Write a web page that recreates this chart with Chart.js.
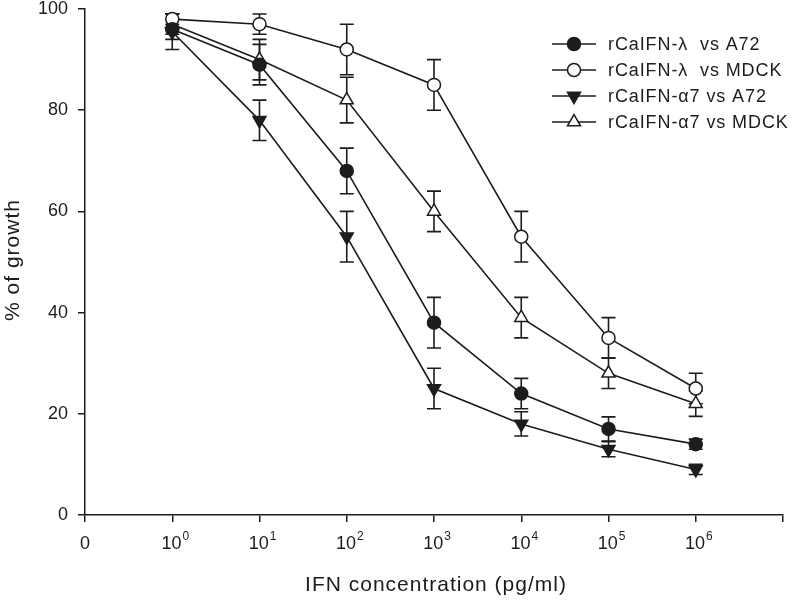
<!DOCTYPE html>
<html>
<head>
<meta charset="utf-8">
<script src="https://cdn.jsdelivr.net/npm/chart.js@4/dist/chart.umd.min.js"></script>
<style>
  html, body { margin: 0; padding: 0; background: #fff; }
  #wrap { width: 792px; height: 600px; position: relative; }
</style>
</head>
<body>
<div id="wrap"><canvas id="growthChart"></canvas></div>
<script>
// x positions 1..7 stand for 10^0 .. 10^6 pg/ml, 0 is the "0" tick
const doseIndex = [1, 2, 3, 4, 5, 6, 7];
const tickBase = ["0", "10", "10", "10", "10", "10", "10", "10", ""];
const tickExp = ["", "0", "1", "2", "3", "4", "5", "6", ""];

const seriesNames = [
  "rCaIFN-λ  vs A72",
  "rCaIFN-λ  vs MDCK",
  "rCaIFN-α7 vs A72",
  "rCaIFN-α7 vs MDCK",
];

const lambdaA72 = [96, 89, 68, 38, 24, 17, 14];
const lambdaMDCK = [98, 97, 92, 85, 55, 35, 25];
const alphaA72 = [95.5, 78, 55, 25, 18, 13, 9];
const alphaMDCK = [97, 90, 82, 60, 39, 28, 22];

const lambdaA72Err = [2, 4, 4.5, 5, 3, 2.4, 1];
const lambdaMDCKErr = [1, 2, 5, 5, 5, 4, 3];
const alphaA72Err = [3.5, 4, 5, 4, 2.4, 1.5, 1];
const alphaMDCKErr = [2, 4, 4.5, 4, 4, 3, 2.5];

const ink = "#1c1c1c";
const font = "'Liberation Sans', Arial, sans-serif";

const makeSet = (label, values, errors, style, rotation, fill) => ({
  label,
  data: values.map((v, i) => ({ x: doseIndex[i], y: v })),
  errors,
  borderColor: ink,
  borderWidth: 1.6,
  pointStyle: style,
  pointRotation: rotation,
  pointRadius: style === "triangle" ? 7.5 : 6.5,
  pointBackgroundColor: fill,
  pointBorderColor: ink,
  pointBorderWidth: 1.5,
  tension: 0,
});

const errorBars = {
  id: "errorBars",
  beforeDatasetsDraw(chart) {
    const { ctx, scales } = chart;
    ctx.save();
    ctx.strokeStyle = ink;
    ctx.lineWidth = 1.6;
    chart.data.datasets.forEach((ds) => {
      ds.data.forEach((pt, i) => {
        const e = ds.errors[i];
        const x = scales.x.getPixelForValue(pt.x);
        const top = scales.y.getPixelForValue(pt.y + e);
        const bot = scales.y.getPixelForValue(pt.y - e);
        ctx.beginPath();
        ctx.moveTo(x, top);
        ctx.lineTo(x, bot);
        ctx.moveTo(x - 7, top);
        ctx.lineTo(x + 7, top);
        ctx.moveTo(x - 7, bot);
        ctx.lineTo(x + 7, bot);
        ctx.stroke();
      });
    });
    ctx.restore();
  },
};

// legend, axis titles and powers-of-ten tick labels
const textLayer = {
  id: "textLayer",
  afterDraw(chart) {
    const { ctx, scales, chartArea } = chart;
    ctx.save();
    ctx.fillStyle = ink;

    // x tick labels with raised exponent
    ctx.textBaseline = "alphabetic";
    tickBase.forEach((base, i) => {
      if (!base) return;
      const x = scales.x.getPixelForValue(i);
      ctx.font = `18px ${font}`;
      const wb = ctx.measureText(base).width;
      ctx.font = `12px ${font}`;
      const we = tickExp[i] ? ctx.measureText(tickExp[i]).width + 1 : 0;
      const left = x - (wb + we) / 2 + (tickExp[i] ? 3 : 0);
      ctx.font = `18px ${font}`;
      ctx.fillText(base, left, chartArea.bottom + 34);
      if (tickExp[i]) {
        ctx.font = `12px ${font}`;
        ctx.fillText(tickExp[i], left + wb + 1, chartArea.bottom + 25);
      }
    });

    // axis titles
    ctx.letterSpacing = "1px";
    ctx.font = `21px ${font}`;
    ctx.textAlign = "center";
    ctx.textBaseline = "middle";
    ctx.fillText("IFN concentration (pg/ml)", 436, 585);
    ctx.save();
    ctx.translate(13, 260);
    ctx.rotate(-Math.PI / 2);
    ctx.fillText("% of growth", 0, 0);
    ctx.restore();

    // legend
    ctx.textAlign = "left";
    ctx.letterSpacing = "0.9px";
    chart.data.datasets.forEach((ds, i) => {
      const y = 44 + i * 26;
      ctx.strokeStyle = ink;
      ctx.lineWidth = 1.6;
      ctx.beginPath();
      ctx.moveTo(552, y);
      ctx.lineTo(596, y);
      ctx.stroke();
      ctx.fillStyle = ds.pointBackgroundColor;
      ctx.lineWidth = 1.5;
      Chart.helpers.drawPoint(ctx, {
        pointStyle: ds.pointStyle,
        rotation: ds.pointRotation,
        radius: ds.pointRadius,
        borderWidth: 1.5,
      }, 574, y);
      ctx.fillStyle = ink;
      ctx.font = `18px ${font}`;
      ctx.fillText(ds.label, 608, y + 1);
    });
    ctx.restore();
  },
};

new Chart(document.getElementById("growthChart"), {
  type: "line",
  data: {
    datasets: [
      makeSet(seriesNames[0], lambdaA72, lambdaA72Err, "circle", 0, ink),
      makeSet(seriesNames[1], lambdaMDCK, lambdaMDCKErr, "circle", 0, "#fff"),
      makeSet(seriesNames[2], alphaA72, alphaA72Err, "triangle", 180, ink),
      makeSet(seriesNames[3], alphaMDCK, alphaMDCKErr, "triangle", 0, "#fff"),
    ],
  },
  options: {
    responsive: true,
    maintainAspectRatio: false,
    animation: false,
    layout: { padding: { top: 9, right: 5, left: 0, bottom: 0 } },
    plugins: {
      legend: { display: false },
      tooltip: { enabled: false },
    },
    scales: {
      x: {
        type: "linear",
        min: 0,
        max: 8,
        afterFit: (scale) => {
          scale.height = 85;
          scale.paddingLeft = 0;
          scale.paddingRight = 0;
        },
        ticks: {
          stepSize: 1,
          callback: () => "",
        },
        grid: { drawOnChartArea: false, tickLength: 7, color: ink, lineWidth: 1.5 },
        border: { color: ink, width: 1.5 },
      },
      y: {
        min: 0,
        max: 100,
        afterFit: (scale) => {
          scale.width = 85;
          scale.paddingTop = 0;
          scale.paddingBottom = 0;
        },
        ticks: {
          stepSize: 20,
          color: ink,
          padding: 10,
          font: { family: font, size: 18 },
        },
        grid: { drawOnChartArea: false, tickLength: 7, color: ink, lineWidth: 1.5 },
        border: { color: ink, width: 1.5 },
      },
    },
  },
  plugins: [errorBars, textLayer],
});
</script>
</body>
</html>
